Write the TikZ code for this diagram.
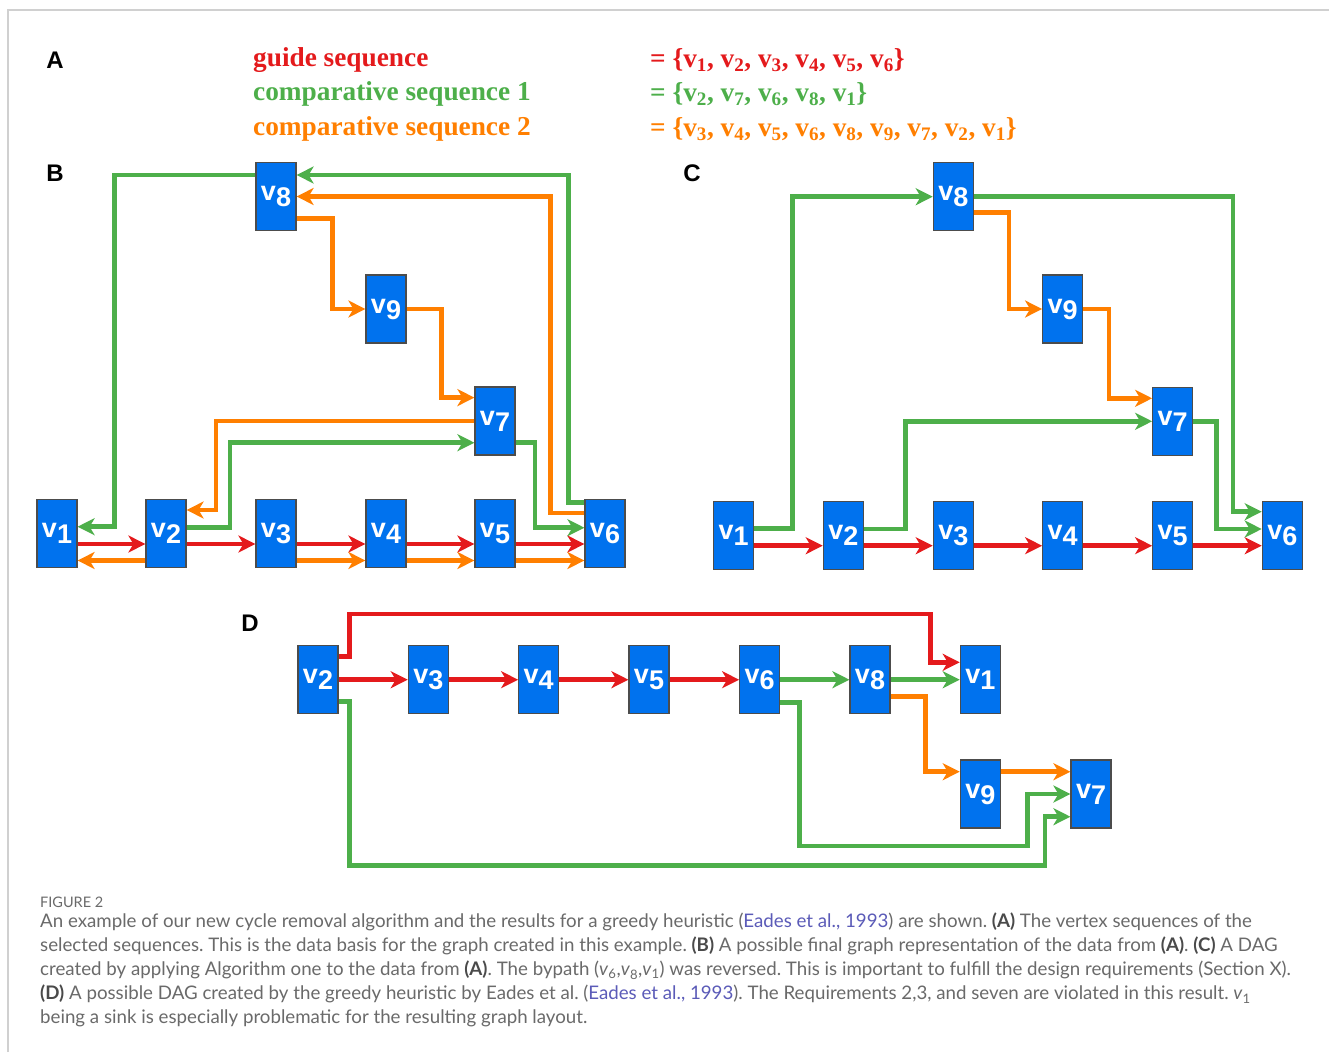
\documentclass[tikz,border=0pt]{standalone}
\usepackage{fontspec}
\setmainfont{Liberation Sans}
\newfontfamily\seqfont{Liberation Serif}
\newfontfamily\capfont{Lato}
\usetikzlibrary{arrows.meta}
\frenchspacing

\definecolor{setred}{HTML}{E41A1C}
\definecolor{setgreen}{HTML}{4DAF4A}
\definecolor{setorange}{HTML}{FF7F00}
\definecolor{vblue}{HTML}{0072EE}
\definecolor{capgray}{HTML}{6A6A6A}
\definecolor{capdark}{HTML}{4A4A4A}
\definecolor{linkblue}{HTML}{5B5BB8}
\definecolor{framegray}{HTML}{D0D0D0}

\pgfdeclarelayer{paper}
\pgfdeclarelayer{edges}
\pgfsetlayers{paper,edges,main}

% vertex label: v with a lowered index
\newcommand\vlab[1]{v\raisebox{-6pt}{#1}}
\newcommand\capv[1]{\textit{v}\textsubscript{#1}}
\newcommand\seqv[1]{v\textsubscript{#1}}

\begin{document}
\begin{tikzpicture}[x=1pt,y=-1pt,
  vbox/.style={draw=black!70, line width=1.2pt, fill=vblue,
    minimum width=40pt, minimum height=68pt, inner sep=0pt,
    text=white, font=\fontsize{27}{27}\selectfont\bfseries},
  conn/.style={line width=4.5pt,
    -{Stealth[length=17pt,width=17pt,inset=5pt]}},
  rd/.style={conn, draw=setred},
  gr/.style={conn, draw=setgreen},
  og/.style={conn, draw=setorange},
  panel/.style={font=\fontsize{24}{24}\selectfont\bfseries, inner sep=0pt},
  seqtxt/.style={anchor=west, inner sep=0pt,
    font=\seqfont\bfseries\fontsize{27.3}{27.3}\selectfont},
  capline/.style={anchor=west, inner sep=0pt, text=capgray,
    font=\capfont\fontsize{18.7}{18.7}\selectfont},
]
\useasboundingbox (0,0) rectangle (1329,1052);
\begin{pgfonlayer}{paper}
  \fill[white] (0,0) rectangle (1329,1052);
\end{pgfonlayer}

% frame lines
\draw[framegray, line width=2pt] (8,1052) -- (8,10) -- (1329,10);

% ---------- panel A: the sequences ----------
\node[panel] (labA) at (55,60) {A};
\node[seqtxt, text=setred]    (s0) at (253,60)  {guide sequence};
\node[seqtxt, text=setgreen]  (s1) at (253,94)  {comparative sequence 1};
\node[seqtxt, text=setorange] (s2) at (253,129) {comparative sequence 2};
\node[seqtxt, text=setred]    (q0) at (650,60)
  {= \{\seqv{1}, \seqv{2}, \seqv{3}, \seqv{4}, \seqv{5}, \seqv{6}\}};
\node[seqtxt, text=setgreen]  (q1) at (650,94)
  {= \{\seqv{2}, \seqv{7}, \seqv{6}, \seqv{8}, \seqv{1}\}};
\node[seqtxt, text=setorange] (q2) at (650,129)
  {= \{\seqv{3}, \seqv{4}, \seqv{5}, \seqv{6}, \seqv{8}, \seqv{9}, \seqv{7}, \seqv{2}, \seqv{1}\}};

% ---------- panel B: final graph ----------
\node[panel] (labB) at (55,173) {B};
\node[vbox] (b1) at (57,533.5)  {\vlab{1}};
\node[vbox] (b2) at (166,533.5) {\vlab{2}};
\node[vbox] (b3) at (276,533.5) {\vlab{3}};
\node[vbox] (b4) at (386,533.5) {\vlab{4}};
\node[vbox] (b5) at (495,533.5) {\vlab{5}};
\node[vbox] (b6) at (605,533.5) {\vlab{6}};
\node[vbox] (b8) at (276,196.5) {\vlab{8}};
\node[vbox] (b9) at (386,309)   {\vlab{9}};
\node[vbox] (b7) at (495,421)   {\vlab{7}};

\begin{pgfonlayer}{edges}
  \foreach \a/\b in {b1/b2,b2/b3,b3/b4,b4/b5,b5/b6}
    \draw[rd] ([yshift=-10.5pt]\a.east) -- ([yshift=-10.5pt]\b.west);
  \foreach \a/\b in {b3/b4,b4/b5,b5/b6}
    \draw[og] ([yshift=-27pt]\a.east) -- ([yshift=-27pt]\b.west);
  \draw[og] ([yshift=-27pt]b2.west) -- ([yshift=-27pt]b1.east);
  \draw[og] ([yshift=20.5pt]b6.west) -- ++(-34,0) |- (b8.east);
  \draw[gr] ([yshift=30.8pt]b6.west) -- ++(-16,0) |- ([yshift=21.5pt]b8.east);
  \draw[gr] ([yshift=21.5pt]b8.west) -- ++(-141,0) |- ([yshift=6.8pt]b1.east);
  \draw[gr] ([yshift=6.2pt]b2.east) -- ++(43.3,0) |- ([yshift=-21.7pt]b7.west);
  \draw[gr] ([yshift=-21.7pt]b7.east) -- ++(19.3,0) |- ([yshift=5.8pt]b6.west);
  \draw[og] ([yshift=-21.8pt]b8.east) -- ++(35.7,0) |- (b9.west);
  \draw[og] (b9.east) -- ++(35,0) |- ([yshift=23.4pt]b7.west);
  \draw[og] (b7.west) -- ++(-258.3,0) |- ([yshift=23.5pt]b2.east);
\end{pgfonlayer}

% ---------- panel C: DAG from the algorithm ----------
\node[panel] (labC) at (692,173) {C};
\node[vbox] (c1) at (733.7,535.3)  {\vlab{1}};
\node[vbox] (c2) at (843.3,535.3)  {\vlab{2}};
\node[vbox] (c3) at (953.3,535.3)  {\vlab{3}};
\node[vbox] (c4) at (1062.7,535.3) {\vlab{4}};
\node[vbox] (c5) at (1172.7,535.3) {\vlab{5}};
\node[vbox] (c6) at (1282.3,535.3) {\vlab{6}};
\node[vbox] (c8) at (953.3,196.7)  {\vlab{8}};
\node[vbox] (c9) at (1062.7,309)   {\vlab{9}};
\node[vbox] (c7) at (1172.7,421.3) {\vlab{7}};

\begin{pgfonlayer}{edges}
  \foreach \a/\b in {c1/c2,c2/c3,c3/c4,c4/c5,c5/c6}
    \draw[rd] ([yshift=-10.4pt]\a.east) -- ([yshift=-10.4pt]\b.west);
  \draw[gr] ([yshift=7pt]c1.east) -- ++(38,0) |- (c8.west);
  \draw[gr] (c8.east) -- ++(259,0) |- ([yshift=23.6pt]c6.west);
  \draw[gr] ([yshift=6.3pt]c2.east) -- ++(41.7,0) |- (c7.west);
  \draw[gr] (c7.east) -- ++(23,0) |- ([yshift=6.3pt]c6.west);
  \draw[og] ([yshift=-16pt]c8.east) -- ++(35,0) |- (c9.west);
  \draw[og] (c9.east) -- ++(25.6,0) |- ([yshift=23pt]c7.west);
\end{pgfonlayer}

% ---------- panel D: DAG from the greedy heuristic ----------
\node[panel] (labD) at (250,623) {D};
\node[vbox] (d2) at (318,679.7)   {\vlab{2}};
\node[vbox] (d3) at (428.3,679.7) {\vlab{3}};
\node[vbox] (d4) at (538.7,679.7) {\vlab{4}};
\node[vbox] (d5) at (649,679.7)   {\vlab{5}};
\node[vbox] (d6) at (759.7,679.7) {\vlab{6}};
\node[vbox] (d8) at (870,679.7)   {\vlab{8}};
\node[vbox] (d1) at (980.3,679.7) {\vlab{1}};
\node[vbox] (d9) at (980.3,794)   {\vlab{9}};
\node[vbox] (d7) at (1091,794)    {\vlab{7}};

\begin{pgfonlayer}{edges}
  \foreach \a/\b in {d2/d3,d3/d4,d4/d5,d5/d6}
    \draw[rd] (\a.east) -- (\b.west);
  \draw[rd] ([yshift=23pt]d2.east) -- ++(10.7,0) |- (930.7,614) |- ([yshift=17.4pt]d1.west);
  \draw[gr] (d6.east) -- (d8.west);
  \draw[gr] (d8.east) -- (d1.west);
  \draw[gr] ([yshift=-22.6pt]d6.east) -- ++(19,0) |- (1027.3,846) |- (d7.west);
  \draw[gr] ([yshift=-22pt]d2.east) -- ++(10.7,0) |- (1045,865.7) |- ([yshift=-22.7pt]d7.west);
  \draw[og] ([yshift=-17pt]d8.east) -- ++(35,0) |- ([yshift=22.3pt]d9.west);
  \draw[og] ([yshift=22.3pt]d9.east) -- ([yshift=22.3pt]d7.west);
\end{pgfonlayer}

% ---------- caption ----------
\node[capline, font=\capfont\fontsize{14.5}{14.5}\selectfont] (cap0) at (40,902) {FIGURE 2};
\node[capline] (cap1) at (40,922)
  {An example of our new cycle removal algorithm and the results for a greedy heuristic (\textcolor{linkblue}{Eades et al., 1993}) are shown. \textcolor{capdark}{\textbf{(A)}} The vertex sequences of the};
\node[capline] (cap2) at (40,946)
  {selected sequences. This is the data basis for the graph created in this example. \textcolor{capdark}{\textbf{(B)}} A possible final graph representation of the data from \textcolor{capdark}{\textbf{(A)}}. \textcolor{capdark}{\textbf{(C)}} A DAG};
\node[capline] (cap3) at (40,970)
  {created by applying Algorithm one to the data from \textcolor{capdark}{\textbf{(A)}}. The bypath (\capv{6},\capv{8},\capv{1}) was reversed. This is important to fulfill the design requirements (Section X).};
\node[capline] (cap4) at (40,994)
  {\textcolor{capdark}{\textbf{(D)}} A possible DAG created by the greedy heuristic by Eades et al. (\textcolor{linkblue}{Eades et al., 1993}). The Requirements 2,3, and seven are violated in this result. \capv{1}};
\node[capline] (cap5) at (40,1018)
  {being a sink is especially problematic for the resulting graph layout.};
\end{tikzpicture}
\end{document}
